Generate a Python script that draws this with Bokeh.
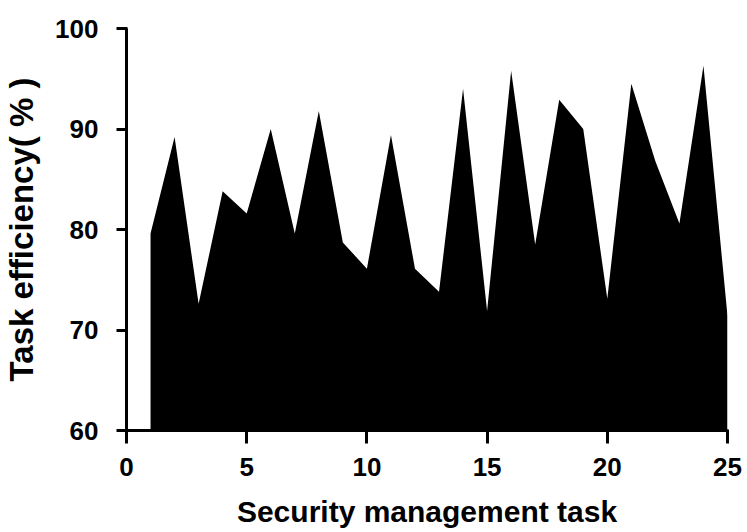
from bokeh.plotting import figure
from bokeh.models import Range1d, FixedTicker
from bokeh.embed import file_html
from bokeh.resources import INLINE

tasks = list(range(1, 26))
efficiency = [79.6, 89.2, 72.6, 83.8, 81.6, 90.0, 79.6, 91.8, 78.7, 76.1,
              89.4, 76.1, 73.8, 94.0, 71.9, 95.8, 78.5, 92.9, 90.0, 73.1,
              94.5, 86.8, 80.6, 96.3, 71.4]
baseline = 60
x_ticks = [0, 5, 10, 15, 20, 25]
y_ticks = [60, 70, 80, 90, 100]

p = figure(frame_width=601, frame_height=402,
           min_border_left=126, min_border_right=20,
           min_border_top=28, min_border_bottom=100,
           x_range=Range1d(0, 25), y_range=Range1d(60, 100),
           output_backend="svg", toolbar_location=None)

p.varea(x=tasks, y1=[baseline] * len(tasks), y2=efficiency, fill_color="black")

p.outline_line_color = None
p.xgrid.visible = False
p.ygrid.visible = False
p.background_fill_color = "white"
p.border_fill_color = "white"

p.xaxis.ticker = FixedTicker(ticks=x_ticks, minor_ticks=[])
p.yaxis.ticker = FixedTicker(ticks=y_ticks, minor_ticks=[])

p.axis.axis_line_width = 3
p.axis.axis_line_color = "black"
p.axis.major_tick_line_width = 3
p.axis.major_tick_line_color = "black"
p.axis.major_tick_in = 1
p.axis.minor_tick_line_color = None
p.axis.major_label_text_font = "Liberation Sans"
p.axis.major_label_text_font_style = "bold"
p.axis.major_label_text_font_size = "26px"
p.axis.major_label_text_color = "black"
p.axis.axis_label_text_font = "Liberation Sans"
p.axis.axis_label_text_font_style = "bold"
p.axis.axis_label_text_color = "black"

p.xaxis.major_tick_out = 13
p.yaxis.major_tick_out = 10
p.xaxis.axis_label_text_font_size = "30px"
p.yaxis.axis_label_text_font_size = "33px"

p.xaxis.axis_label = "Security management task"
p.yaxis.axis_label = "Task efficiency( % )"
p.xaxis.major_label_standoff = 14
p.yaxis.major_label_standoff = 18
p.xaxis.axis_label_standoff = 16
p.yaxis.axis_label_standoff = 12

open("out.html", "w").write(file_html(p, INLINE))
